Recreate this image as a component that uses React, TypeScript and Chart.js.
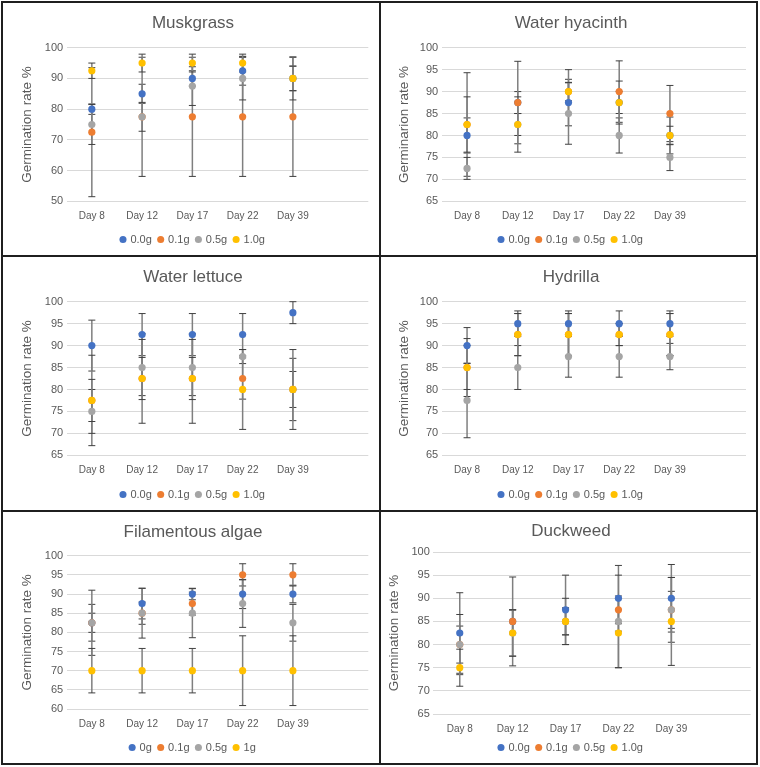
import React, { useEffect, useRef } from "react";
import { Chart, registerables } from "chart.js";

Chart.register(...registerables);

const FONT = "'Liberation Sans', Arial, sans-serif";
const TEXT = "#595959";
const COLORS = ["#4472C4", "#ED7D31", "#A5A5A5", "#FFC000"];

const DAYS = ["Day 8", "Day 12", "Day 17", "Day 22", "Day 39", ""];
const DOSE_LABELS = ["0.0g", "0.1g", "0.5g", "1.0g"];
const ALGAE_DOSE_LABELS = ["0g", "0.1g", "0.5g", "1g"];

// Muskgrass
const MUSK_00 = [80, 85, 90, 92.5, 90];
const MUSK_00_ERR = [1.7, 3.1, 2.5, 4.7, 4];
const MUSK_01 = [72.5, 77.5, 77.5, 77.5, 77.5];
const MUSK_01_ERR = [21, 19.4, 19.4, 19.4, 19.4];
const MUSK_05 = [75, 77.5, 87.5, 90, 90];
const MUSK_05_ERR = [6.5, 4.7, 6.3, 7, 7];
const MUSK_10 = [92.5, 95, 95, 95, 90];
const MUSK_10_ERR = [2.5, 2.9, 2.9, 2.9, 4];

// Water hyacinth
const HYAC_00 = [80, 87.5, 87.5, 87.5, 80];
const HYAC_00_ERR = [4, 2.5, 5.3, 2.5, 4.2];
const HYAC_01 = [82.5, 87.5, 90, 90, 85];
const HYAC_01_ERR = [11.8, 9.4, 5, 7, 6.4];
const HYAC_05 = [72.5, 82.5, 85, 80, 75];
const HYAC_05_ERR = [2.5, 2.5, 7, 4, 3];
const HYAC_10 = [82.5, 82.5, 90, 87.5, 80];
const HYAC_10_ERR = [6.3, 6.3, 2.1, 4.9, 2.1];

// Water lettuce
const LETT_00 = [90, 92.5, 92.5, 92.5, 97.5];
const LETT_00_ERR = [5.8, 4.8, 4.8, 4.8, 2.5];
const LETT_01 = [77.5, 82.5, 82.5, 82.5, 80];
const LETT_01_ERR = [10.3, 10.2, 10.2, 4.7, 7.1];
const LETT_05 = [75, 85, 85, 87.5, 80];
const LETT_05_ERR = [5, 6.4, 6.4, 1.6, 4.1];
const LETT_10 = [77.5, 82.5, 82.5, 80, 80];
const LETT_10_ERR = [4.8, 4.8, 4.8, 9.1, 9.1];

// Hydrilla
const HYDR_00 = [90, 95, 95, 95, 95];
const HYDR_00_ERR = [4.1, 2.9, 2.9, 2.9, 2.9];
const HYDR_01 = [85, 92.5, 92.5, 92.5, 92.5];
const HYDR_01_ERR = [6.6, 4.8, 4.8, 2.5, 4.8];
const HYDR_05 = [77.5, 85, 87.5, 87.5, 87.5];
const HYDR_05_ERR = [8.5, 5, 4.7, 4.7, 3];
const HYDR_10 = [85, 92.5, 92.5, 92.5, 92.5];
const HYDR_10_ERR = [5, 4.8, 4.8, 2.5, 4.8];

// Filamentous algae
const ALGA_00 = [82.5, 87.5, 90, 90, 90];
const ALGA_00_ERR = [2.5, 4, 1.5, 3.8, 2.3];
const ALGA_01 = [82.5, 85, 87.5, 95, 95];
const ALGA_01_ERR = [4.8, 2.9, 3, 2.9, 2.9];
const ALGA_05 = [82.5, 85, 85, 87.5, 82.5];
const ALGA_05_ERR = [8.5, 6.5, 6.4, 6.2, 4.8];
const ALGA_10 = [70, 70, 70, 70, 70];
const ALGA_10_ERR = [5.8, 5.8, 5.8, 9.1, 9.1];

// Duckweed
const DUCK_00 = [82.5, 85, 87.5, 90, 90];
const DUCK_00_ERR = [8.7, 2.5, 7.5, 7.1, 7.3];
const DUCK_01 = [80, 85, 85, 87.5, 87.5];
const DUCK_01_ERR = [4, 9.6, 5, 3, 4];
const DUCK_05 = [80, 82.5, 85, 85, 87.5];
const DUCK_05_ERR = [6.5, 5, 2.9, 10, 7];
const DUCK_10 = [75, 82.5, 85, 82.5, 85];
const DUCK_10_ERR = [4, 5, 2.9, 7.5, 9.5];

const errorBarPlugin = {
  id: "errorBars",
  beforeDatasetsDraw(chart: any) {
    const ctx = chart.ctx;
    const yScale = chart.scales.y;
    ctx.save();
    chart.data.datasets.forEach((ds: any, di: number) => {
      const meta = chart.getDatasetMeta(di);
      meta.data.forEach((pt: any, i: number) => {
        const v = ds.data[i];
        const e = ds.errors ? ds.errors[i] : null;
        if (v == null || e == null) return;
        const x = pt.x;
        const yTop = yScale.getPixelForValue(v + e);
        const yBot = yScale.getPixelForValue(v - e);
        ctx.strokeStyle = "#7f7f7f";
        ctx.lineWidth = 1.5;
        ctx.beginPath();
        ctx.moveTo(x, yTop);
        ctx.lineTo(x, yBot);
        ctx.stroke();
        ctx.strokeStyle = "#404040";
        ctx.lineWidth = 1;
        ctx.beginPath();
        ctx.moveTo(x - 3.5, yTop);
        ctx.lineTo(x + 3.5, yTop);
        ctx.moveTo(x - 3.5, yBot);
        ctx.lineTo(x + 3.5, yBot);
        ctx.stroke();
      });
    });
    ctx.restore();
  },
};

const PANELS = [
  {
    key: "musk", x: 3, y: 3, w: 376, h: 252,
    title: "Muskgrass", yTitle: "Germination rate %", yMin: 50, yMax: 100,
    doses: DOSE_LABELS,
    means: [MUSK_00, MUSK_01, MUSK_05, MUSK_10],
    errs: [MUSK_00_ERR, MUSK_01_ERR, MUSK_05_ERR, MUSK_10_ERR],
    area: { l: 63.7, r: 365.3, t: 44.7, b: 198.3 }, titleY: 20, yTitleX: 24.5,
  },
  {
    key: "hyac", x: 381, y: 3, w: 375, h: 252,
    title: "Water hyacinth", yTitle: "Germinarion rate %", yMin: 65, yMax: 100,
    doses: DOSE_LABELS,
    means: [HYAC_00, HYAC_01, HYAC_05, HYAC_10],
    errs: [HYAC_00_ERR, HYAC_01_ERR, HYAC_05_ERR, HYAC_10_ERR],
    area: { l: 60.7, r: 365, t: 44.7, b: 198.3 }, titleY: 20, yTitleX: 23.2,
  },
  {
    key: "lett", x: 3, y: 257, w: 376, h: 253,
    title: "Water lettuce", yTitle: "Germination rate %", yMin: 65, yMax: 100,
    doses: DOSE_LABELS,
    means: [LETT_00, LETT_01, LETT_05, LETT_10],
    errs: [LETT_00_ERR, LETT_01_ERR, LETT_05_ERR, LETT_10_ERR],
    area: { l: 63.7, r: 365.3, t: 44.7, b: 198.3 }, titleY: 20.3, yTitleX: 24.5,
  },
  {
    key: "hydr", x: 381, y: 257, w: 375, h: 253,
    title: "Hydrilla", yTitle: "Germination rate %", yMin: 65, yMax: 100,
    doses: DOSE_LABELS,
    means: [HYDR_00, HYDR_01, HYDR_05, HYDR_10],
    errs: [HYDR_00_ERR, HYDR_01_ERR, HYDR_05_ERR, HYDR_10_ERR],
    area: { l: 60.7, r: 365, t: 44.7, b: 198.3 }, titleY: 20.3, yTitleX: 23.2,
  },
  {
    key: "alga", x: 3, y: 512, w: 376, h: 251,
    title: "Filamentous algae", yTitle: "Germination rate %", yMin: 60, yMax: 100,
    doses: ALGAE_DOSE_LABELS,
    means: [ALGA_00, ALGA_01, ALGA_05, ALGA_10],
    errs: [ALGA_00_ERR, ALGA_01_ERR, ALGA_05_ERR, ALGA_10_ERR],
    area: { l: 63.7, r: 365.3, t: 43.7, b: 197 }, titleY: 20.3, yTitleX: 24.5,
  },
  {
    key: "duck", x: 381, y: 512, w: 375, h: 251,
    title: "Duckweed", yTitle: "Germination rate %", yMin: 65, yMax: 100,
    doses: DOSE_LABELS,
    means: [DUCK_00, DUCK_01, DUCK_05, DUCK_10],
    errs: [DUCK_00_ERR, DUCK_01_ERR, DUCK_05_ERR, DUCK_10_ERR],
    area: { l: 52.3, r: 369.7, t: 40, b: 202 }, titleY: 19.7, yTitleX: 13.5,
  },
];

function Panel({ cfg }: { cfg: any }) {
  const ref = useRef<HTMLCanvasElement | null>(null);
  useEffect(() => {
    if (!ref.current) return;
    const titleSize = 17;
    const titleLH = titleSize * 1.2;
    const tPadTop = cfg.titleY - titleLH / 2;
    const tPadBottom = cfg.area.t - tPadTop - titleLH;
    const padR = cfg.w - cfg.area.r;
    const padL = 380 - cfg.area.r;
    const yTitleSize = 13.5;
    const yTitlePad = cfg.yTitleX - padL - (yTitleSize * 1.2) / 2;
    const plotB = cfg.area.b;
    const plotL = cfg.area.l;

    const datasets = cfg.doses.map((lbl: string, i: number) => ({
      label: lbl,
      data: cfg.means[i],
      errors: cfg.errs[i],
      showLine: false,
      borderWidth: 0,
      borderColor: COLORS[i],
      backgroundColor: COLORS[i],
      pointBackgroundColor: COLORS[i],
      pointBorderColor: COLORS[i],
      pointBorderWidth: 0,
      pointRadius: 3.6,
      pointHoverRadius: 3.6,
      pointStyle: "circle",
      order: 4 - i,
    }));

    const chart = new Chart(ref.current, {
      type: "line",
      data: { labels: DAYS, datasets },
      plugins: [errorBarPlugin],
      options: {
        animation: false,
        responsive: false,
        maintainAspectRatio: false,
        events: [],
        layout: { padding: { left: padL, right: padR, top: 0, bottom: 0 } },
        plugins: {
          title: {
            display: true,
            text: cfg.title,
            color: TEXT,
            font: { family: FONT, size: titleSize, weight: "normal", lineHeight: 1.2 },
            padding: { top: tPadTop, bottom: tPadBottom },
          },
          legend: {
            display: true,
            position: "bottom",
            labels: {
              usePointStyle: true,
              pointStyle: "circle",
              boxWidth: 3.8,
              boxHeight: 5,
              padding: 7,
              color: TEXT,
              font: { family: FONT, size: 11 },
              sort: (a: any, b: any) => a.datasetIndex - b.datasetIndex,
            },
          },
          tooltip: { enabled: false },
        },
        scales: {
          x: {
            type: "category",
            offset: true,
            grid: { display: false, drawTicks: false },
            border: { display: false },
            ticks: {
              color: TEXT,
              font: { family: FONT, size: 10, lineHeight: 1 },
              padding: 10,
              maxRotation: 0,
              minRotation: 0,
              autoSkip: false,
            },
            afterFit: (s: any) => {
              const lg = s.chart.legend;
              const lh = lg && lg.height ? lg.height : 28;
              s.height = s.chart.height - lh - plotB;
            },
          },
          y: {
            min: cfg.yMin,
            max: cfg.yMax,
            border: { display: false },
            grid: { color: "#d9d9d9", lineWidth: 1, drawTicks: false },
            ticks: {
              stepSize: 5,
              padding: 3.5,
              color: TEXT,
              font: { family: FONT, size: 11 },
            },
            title: {
              display: true,
              text: cfg.yTitle,
              color: TEXT,
              font: { family: FONT, size: yTitleSize, lineHeight: 1.2 },
              padding: { top: yTitlePad, bottom: 0 },
            },
            afterFit: (s: any) => {
              s.width = plotL - padL;
            },
          },
        },
      } as any,
    });
    return () => chart.destroy();
  }, [cfg]);

  return (
    <div style={{ position: "absolute", left: cfg.x, top: cfg.y, width: cfg.w, height: cfg.h, background: "#fff" }}>
      <canvas ref={ref} width={cfg.w} height={cfg.h} style={{ width: cfg.w, height: cfg.h, display: "block" }} />
    </div>
  );
}

const LINE = "#1f1f1f";

export default function App() {
  const vLines = [1, 379, 756];
  const hLines = [1, 255, 510, 763];
  return (
    <div style={{ position: "absolute", left: 0, top: 0, width: 760, height: 767, background: "#fff", overflow: "hidden" }}>
      {PANELS.map((p) => (
        <Panel key={p.key} cfg={p} />
      ))}
      {vLines.map((x) => (
        <div key={"v" + x} style={{ position: "absolute", left: x, top: 1, width: 2, height: 764, background: LINE }} />
      ))}
      {hLines.map((y) => (
        <div key={"h" + y} style={{ position: "absolute", left: 1, top: y, width: 757, height: 2, background: LINE }} />
      ))}
    </div>
  );
}
